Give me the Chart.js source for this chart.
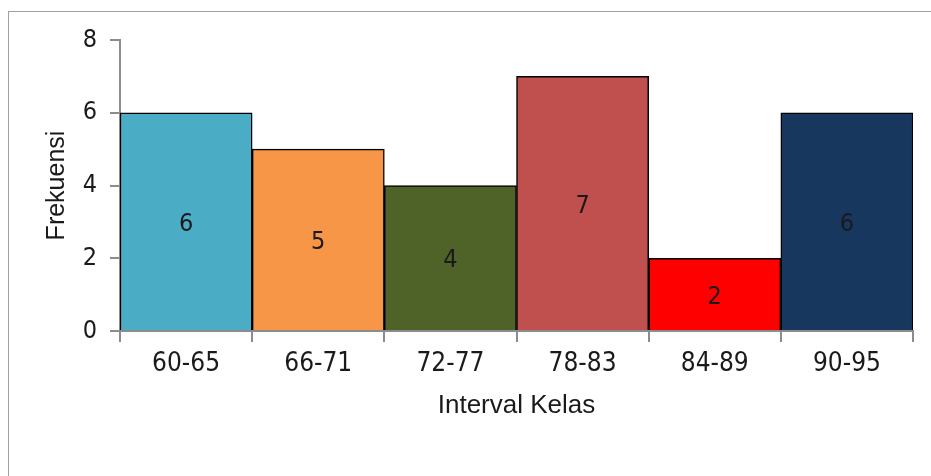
<!DOCTYPE html>
<html>
<head>
<meta charset="utf-8">
<title>Frekuensi per Interval Kelas</title>
<script src="https://cdn.jsdelivr.net/npm/chart.js@4/dist/chart.umd.min.js"></script>
<style>
  html, body { margin: 0; padding: 0; background: #ffffff; overflow: hidden; }
  #wrap { position: relative; width: 931px; height: 476px; }
  #frame {
    position: absolute; left: 8px; top: 11px; width: 1000px; height: 600px;
    border-left: 1.5px solid #a0a0a0; border-top: 1.5px solid #a0a0a0;
  }
  #chart { position: absolute; left: 0; top: 0; }
</style>
</head>
<body>
<div id="wrap">
  <div id="frame"></div>
  <canvas id="chart" width="931" height="476"></canvas>
</div>
<script>
// Class intervals and their frequencies
const categories = ['60-65', '66-71', '72-77', '78-83', '84-89', '90-95'];
const frequencies = [6, 5, 4, 7, 2, 6];
const barColors = ['#4BACC6', '#F79646', '#4F6228', '#C0504D', '#FF0000', '#17375E'];
const yTicks = [0, 2, 4, 6, 8];

const narrowFont = "'Liberation Sans Narrow', 'DejaVu Sans Condensed', 'Liberation Sans', sans-serif";
const titleFont = "'Liberation Sans', Arial, sans-serif";
const axisGray = '#8c8c8c';
const textColor = '#1a1a1a';

// Writes each frequency in the middle of its bar
const barValueLabels = {
  id: 'barValueLabels',
  afterDatasetsDraw(chart) {
    const ctx = chart.ctx;
    const meta = chart.getDatasetMeta(0);
    const values = chart.data.datasets[0].data;
    ctx.save();
    ctx.font = '25px ' + narrowFont;
    ctx.fillStyle = textColor;
    ctx.textAlign = 'center';
    ctx.textBaseline = 'middle';
    meta.data.forEach((bar, i) => {
      ctx.fillText(String(values[i]), bar.x, (bar.y + bar.base) / 2 + 3);
    });
    ctx.restore();
  }
};

new Chart(document.getElementById('chart'), {
  type: 'bar',
  data: {
    labels: categories,
    datasets: [{
      data: frequencies,
      backgroundColor: barColors,
      borderColor: '#000000',
      borderWidth: 1.5,
      barPercentage: 1.0,
      categoryPercentage: 1.0
    }]
  },
  options: {
    responsive: false,
    animation: false,
    layout: { padding: { top: 40, right: 18, left: 0, bottom: 0 } },
    plugins: {
      legend: { display: false },
      tooltip: { enabled: false }
    },
    scales: {
      x: {
        grid: {
          display: true, drawOnChartArea: false, drawTicks: true,
          tickLength: 11, color: axisGray, lineWidth: 2, offset: true
        },
        border: { display: true, color: axisGray, width: 2 },
        ticks: {
          font: { family: narrowFont, size: 26 },
          color: textColor, padding: 7, maxRotation: 0, autoSkip: false
        },
        title: {
          display: true, text: 'Interval Kelas',
          font: { family: titleFont, size: 26 }, color: textColor,
          padding: { top: 0, bottom: 55 }
        },
        afterFit(scale) { scale.height = 145; }
      },
      y: {
        min: 0, max: 8,
        afterBuildTicks(scale) { scale.ticks = yTicks.map(v => ({ value: v })); },
        grid: {
          display: true, drawOnChartArea: false, drawTicks: true,
          tickLength: 10, color: axisGray, lineWidth: 2
        },
        border: { display: true, color: axisGray, width: 2 },
        ticks: {
          font: { family: narrowFont, size: 25 },
          color: textColor, padding: 13
        },
        title: {
          display: true, text: 'Frekuensi',
          font: { family: titleFont, size: 25 }, color: textColor,
          padding: { top: 42, bottom: 0 }
        },
        afterFit(scale) { scale.width = 120; }
      }
    }
  },
  plugins: [barValueLabels]
});
</script>
</body>
</html>
